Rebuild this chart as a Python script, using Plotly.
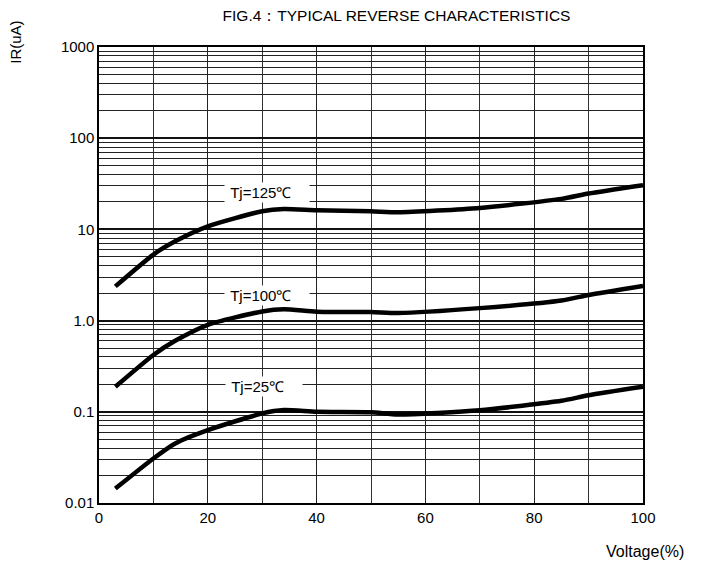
import math
import plotly.graph_objects as go

# Data
voltage = [3, 10, 14, 20, 30, 34, 40, 50, 55, 70, 85, 90, 100]
ir_125 = [2.37, 5.3, 7.4, 10.8, 15.8, 16.7, 16.2, 15.8, 15.4, 17.2, 21.6, 24.7, 30.5]
ir_100 = [0.188, 0.42, 0.6, 0.90, 1.26, 1.33, 1.25, 1.24, 1.21, 1.37, 1.66, 1.91, 2.40]
ir_25 = [0.0144, 0.0308, 0.045, 0.063, 0.096, 0.1044, 0.100, 0.099, 0.0936, 0.104, 0.132, 0.152, 0.188]

y_tickvals = [0.01, 0.1, 1, 10, 100, 1000]
y_ticktext = ["0.01", "0.1", "1.0", "10", "100", "1000"]
y_minor = [m * v for v in [0.01, 0.1, 1, 10, 100] for m in range(2, 10)]

labels = ["Tj=125℃", "Tj=100℃", "Tj=25℃"]
label_x = [30.9, 30.9, 30.4]
label_y = [25.3, 1.87, 0.191]

FONT = "Liberation Sans, Arial, sans-serif"

fig = go.Figure()
for ys in [ir_125, ir_100, ir_25]:
    fig.add_trace(go.Scatter(x=voltage, y=ys, mode="lines",
                             line=dict(color="black", width=4.5, shape="spline", smoothing=0.6),
                             showlegend=False, hoverinfo="skip"))

for t, lx, ly in zip(labels, label_x, label_y):
    fig.add_annotation(x=lx, y=math.log10(ly), yref="y", xref="x",
                       text="&nbsp;" + t + "&nbsp;&nbsp;&nbsp;&nbsp;", showarrow=False,
                       font=dict(family=FONT, size=15, color="black"),
                       bgcolor="white", borderpad=1, yanchor="middle", xanchor="center")

fig.update_layout(
    width=700, height=554,
    margin=dict(l=91, r=65, t=39, b=59),
    paper_bgcolor="white", plot_bgcolor="white",
    font=dict(family=FONT, size=15, color="black"),
    title=dict(text="FIG.4：TYPICAL REVERSE CHARACTERISTICS", x=0.555, xanchor="center",
               y=0.987, yanchor="middle", font=dict(family=FONT, size=15.5, color="black")),
)
fig.update_xaxes(range=[0, 100], tickvals=[0, 20, 40, 60, 80, 100],
                 showgrid=True, gridcolor="#222", gridwidth=1,
                 minor=dict(tickvals=[10, 30, 50, 70, 90], showgrid=True, gridcolor="#333", gridwidth=1),
                 showline=True, linecolor="black", linewidth=1.5, mirror=True,
                 ticks="", tickfont=dict(size=15), zeroline=False)
fig.update_yaxes(type="log", range=[-2, 3], tickvals=y_tickvals, ticktext=y_ticktext,
                 showgrid=True, gridcolor="#111", gridwidth=2,
                 minor=dict(tickvals=y_minor, showgrid=True, gridcolor="#222", gridwidth=1),
                 showline=True, linecolor="black", linewidth=1.5, mirror=True,
                 ticks="", tickfont=dict(size=15), zeroline=False)

fig.add_annotation(text="IR(uA)", xref="paper", yref="paper", x=-0.153, y=1.011,
                   xanchor="center", yanchor="middle", textangle=-90, showarrow=False,
                   font=dict(family=FONT, size=15, color="black"))
fig.add_annotation(text="Voltage(%)", xref="paper", yref="paper", x=0.928, y=-0.107,
                   xanchor="left", yanchor="middle", showarrow=False,
                   font=dict(family=FONT, size=16, color="black"))

fig.write_html("out.html")
